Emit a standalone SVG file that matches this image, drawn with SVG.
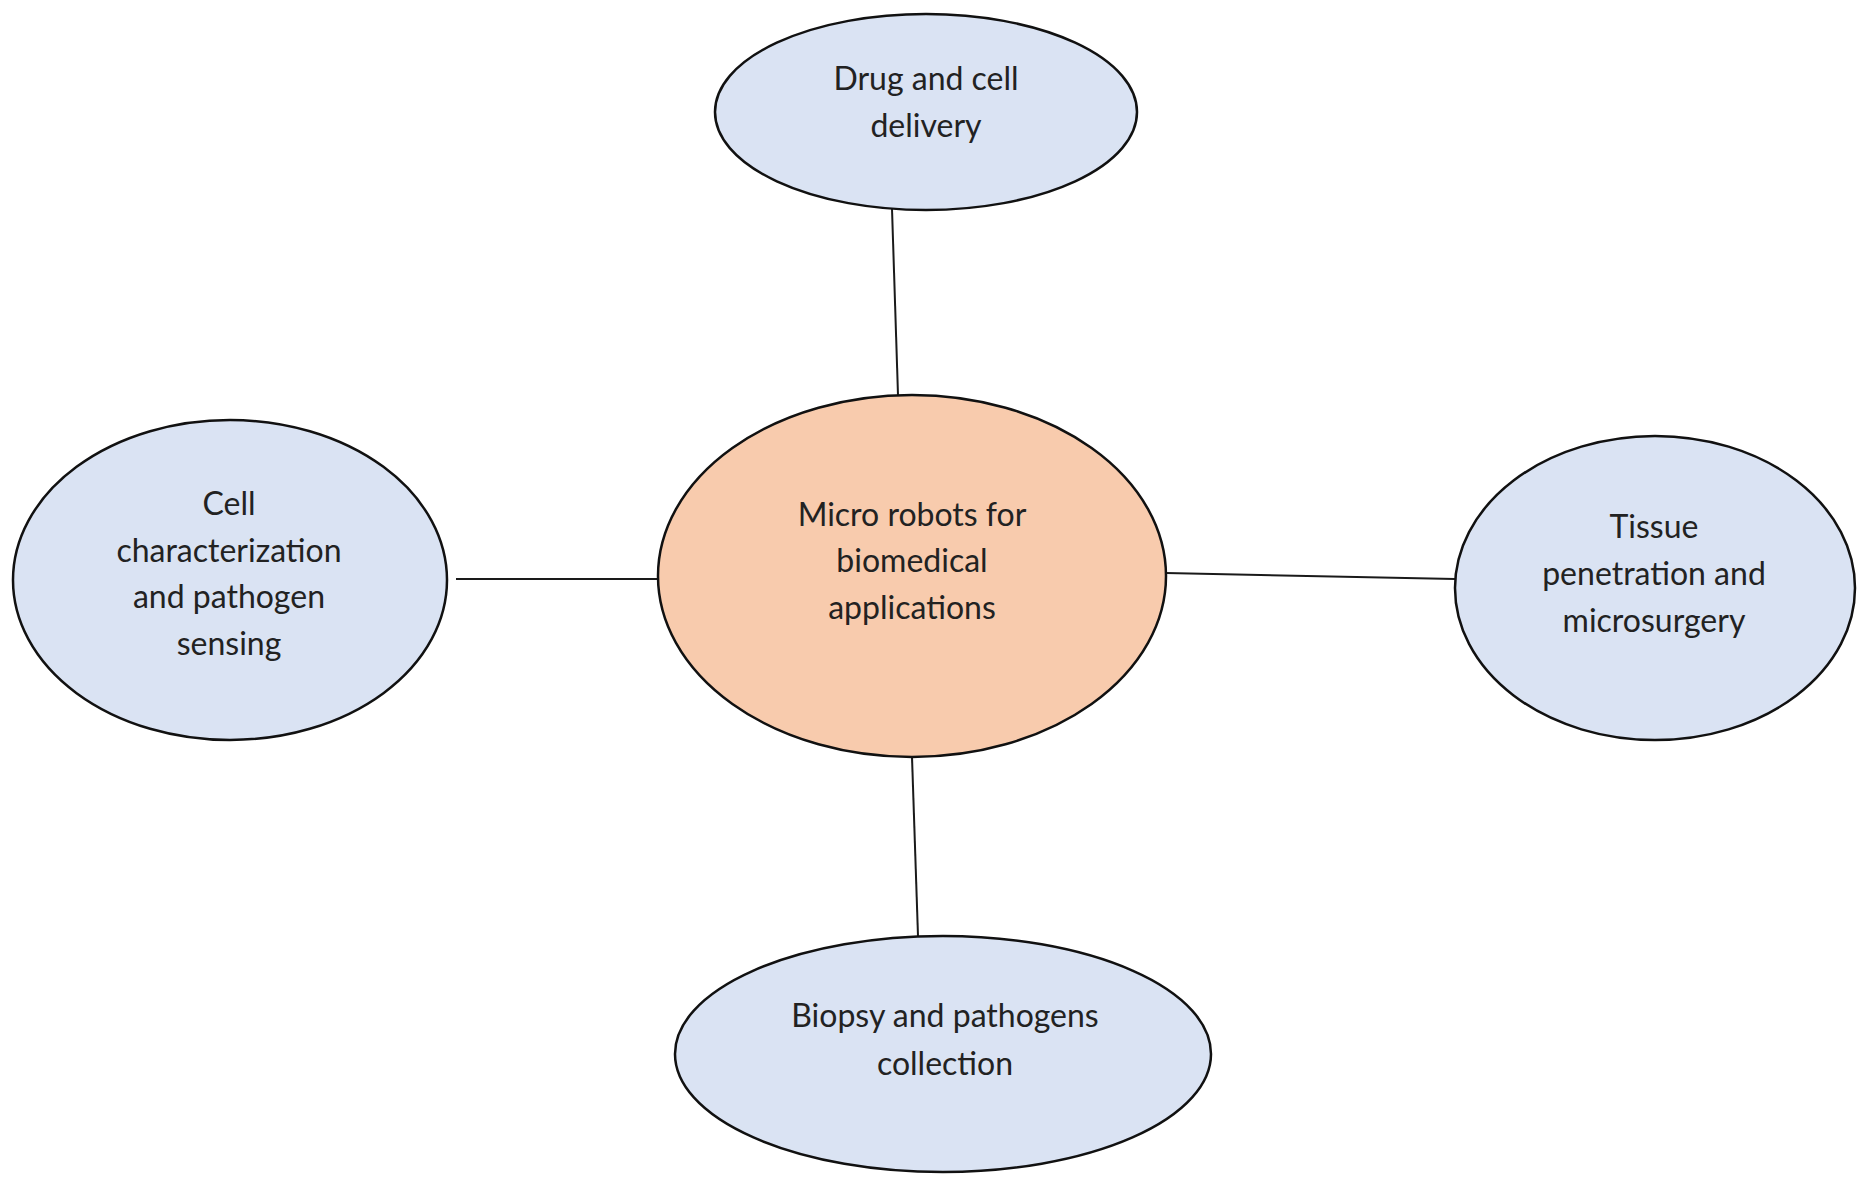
<svg xmlns="http://www.w3.org/2000/svg" width="1868" height="1191" viewBox="0 0 1868 1191">
<style>
.node ellipse{stroke:#111;stroke-width:2.5}
.blue{fill:#dae3f3}
.orange{fill:#f8cbad}
text{font-family:Lato,"Open Sans","Liberation Sans",sans-serif;font-size:32px;fill:#222;text-anchor:middle}
.conn line{stroke:#1a1a1a;stroke-width:2}
</style>
<rect width="1868" height="1191" fill="#ffffff"/>
<g class="conn" id="connectors">
<line x1="892" y1="209" x2="898" y2="395"/>
<line x1="456" y1="579" x2="658" y2="579"/>
<line x1="1166" y1="573" x2="1455" y2="579"/>
<line x1="912" y1="757" x2="918" y2="936"/>
</g>
<g class="node" id="center">
<ellipse class="orange" cx="912" cy="576" rx="254" ry="181"/>
<text x="912" y="526">Micro robots for</text>
<text x="912" y="572">biomedical</text>
<text x="912" y="619">applications</text>
</g>
<g class="node" id="top">
<ellipse class="blue" cx="926" cy="112" rx="211" ry="98"/>
<text x="926" y="90">Drug and cell</text>
<text x="926" y="137">delivery</text>
</g>
<g class="node" id="left">
<ellipse class="blue" cx="230" cy="580" rx="217" ry="160"/>
<text x="229" y="515">Cell</text>
<text x="229" y="562">characterization</text>
<text x="229" y="608">and pathogen</text>
<text x="229" y="655">sensing</text>
</g>
<g class="node" id="right">
<ellipse class="blue" cx="1655" cy="588" rx="200" ry="152"/>
<text x="1654" y="538">Tissue</text>
<text x="1654" y="585">penetration and</text>
<text x="1654" y="632">microsurgery</text>
</g>
<g class="node" id="bottom">
<ellipse class="blue" cx="943" cy="1054" rx="268" ry="118"/>
<text x="945" y="1027">Biopsy and pathogens</text>
<text x="945" y="1075">collection</text>
</g>
</svg>
